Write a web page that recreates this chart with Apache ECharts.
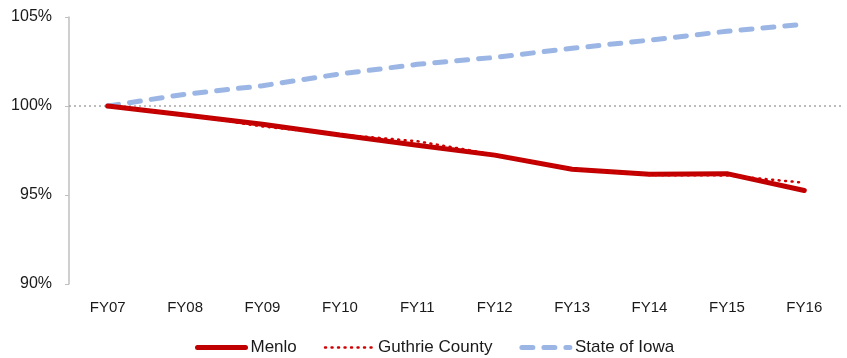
<!DOCTYPE html>
<html>
<head>
<meta charset="utf-8">
<script src="https://cdn.jsdelivr.net/npm/echarts@6/dist/echarts.min.js"></script>
<style>
  html, body { margin: 0; padding: 0; background: #fff; }
  #chart { width: 847px; height: 358px; }
</style>
</head>
<body>
<div id="chart"></div>
<script>
// Fiscal years on the horizontal axis
const years = ['FY07', 'FY08', 'FY09', 'FY10', 'FY11', 'FY12', 'FY13', 'FY14', 'FY15', 'FY16'];

// Index relative to FY07 (percent)
const menlo = [100, 99.5, 98.98, 98.37, 97.8, 97.24, 96.45, 96.16, 96.2, 95.25];
const guthrieCounty = [100, 99.5, 98.85, 98.4, 98.02, 97.27, 96.45, 96.12, 96.1, 95.69];
const stateOfIowa = [100, 100.66, 101.14, 101.8, 102.34, 102.73, 103.24, 103.7, 104.2, 104.6];

// Value axis range
const yMin = 90, yMax = 105, yStep = 5;
const baseline = 100;

// Line styles shared by the series and their legend keys
const menloLine = { color: '#c00000', width: 5, type: 'solid', cap: 'round' };
const guthrieLine = { color: '#d00000', width: 2.5, type: [1, 5.5], cap: 'round' };
const iowaLine = { color: '#9bb6e5', width: 5, type: [11, 11], cap: 'round' };

const font = 'Liberation Sans, Arial, sans-serif';
const chart = echarts.init(document.getElementById('chart'), null, { renderer: 'canvas' });

chart.setOption({
  animation: false,
  backgroundColor: '#ffffff',
  textStyle: { fontFamily: font },
  grid: { left: 69, right: 4, top: 17, bottom: 74, containLabel: false },
  legend: {
    top: 334,
    left: 190,
    itemWidth: 48,
    itemHeight: 10,
    itemGap: 27,
    itemStyle: { opacity: 0 },
    textStyle: { fontFamily: font, fontSize: 17, color: '#1a1a1a' },
    data: [
      { name: 'Menlo', lineStyle: menloLine },
      { name: 'Guthrie County', lineStyle: guthrieLine },
      { name: 'State of Iowa', lineStyle: iowaLine }
    ]
  },
  xAxis: {
    type: 'category',
    data: years,
    boundaryGap: true,
    axisLine: { show: false },
    axisTick: { show: false },
    axisLabel: { margin: 16, fontSize: 15, color: '#1a1a1a', fontFamily: font },
    splitLine: { show: false }
  },
  yAxis: {
    type: 'value',
    min: yMin,
    max: yMax,
    interval: yStep,
    axisLine: { show: true, lineStyle: { color: '#bfbfbf', width: 1.5 } },
    axisTick: { show: true, inside: false, length: 4, lineStyle: { color: '#bfbfbf' } },
    axisLabel: { formatter: '{value}%', fontSize: 16, color: '#1a1a1a', margin: 17, fontFamily: font },
    splitLine: { show: false }
  },
  series: [
    {
      name: 'State of Iowa',
      type: 'line',
      data: stateOfIowa,
      symbol: 'none',
      itemStyle: { color: iowaLine.color },
      lineStyle: iowaLine,
      z: 2
    },
    {
      name: 'Menlo',
      type: 'line',
      data: menlo,
      symbol: 'none',
      itemStyle: { color: menloLine.color },
      lineStyle: menloLine,
      markLine: {
        silent: true,
        symbol: 'none',
        label: { show: false },
        lineStyle: { color: '#a6a6a6', width: 1.5, type: [2, 3] },
        data: [{ yAxis: baseline }],
        z: 1
      },
      z: 3
    },
    {
      name: 'Guthrie County',
      type: 'line',
      data: guthrieCounty,
      symbol: 'none',
      itemStyle: { color: guthrieLine.color },
      lineStyle: guthrieLine,
      z: 4
    }
  ]
});
</script>
</body>
</html>
